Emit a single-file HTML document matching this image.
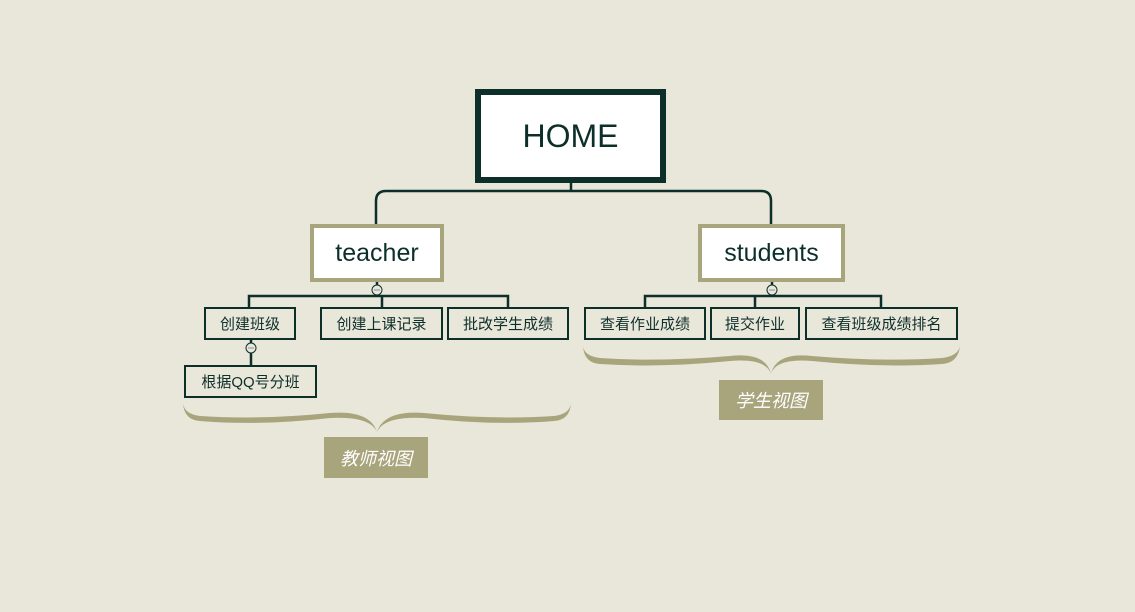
<!DOCTYPE html>
<html><head><meta charset="utf-8"><style>
body{margin:0;width:1135px;height:612px;background:#e9e6da;position:relative;overflow:hidden;font-family:"Liberation Sans","Noto Sans CJK SC",sans-serif;color:#0d2f2a}
.b{position:absolute;box-sizing:border-box;display:flex;align-items:center;justify-content:center;white-space:nowrap}
.c{border:2px solid #0d2f2a;font-size:15px;background:#e9e6da}
.m{border:4px solid #a8a47c;background:#fff;font-size:25px}
.l{background:#a8a47c;color:#fff;font-style:italic;font-size:18px}
</style></head><body>
<svg width="1135" height="612" style="position:absolute;left:0;top:0">
<g fill="none" stroke="#0d2f2a" stroke-width="2.5">
<path d="M571 183V191M376 224V201Q376 191 386 191H761Q771 191 771 201V224"/>
<path d="M377 282V296M249 307V296H508V307M382 296V307"/>
<path d="M251 339V365"/>
<path d="M772 282V296M645 307V296H881V307M755 296V307"/>
</g>
<g fill="#e9e6da" stroke="#0d2f2a" stroke-width="1">
<circle cx="377" cy="290" r="5"/><circle cx="251" cy="348" r="5"/><circle cx="772" cy="290" r="5"/>
</g>
<g stroke="#8a8aa8" stroke-width="1"><path d="M374 290H380M248 348H254M769 290H775"/></g>
<g fill="#a8a47c">
<path d="M183 403Q184 414 200 416Q260 420 330 413Q370 410 377 432Q384 410 424 413Q494 420 554 416Q570 414 571 403Q570 420 554 421Q494 426 424 418Q384 416 377 432Q370 416 330 418Q260 426 200 421Q184 420 183 403Z"/>
<path d="M583 346Q584 356 600 358Q660 362 730 356Q766 352 771 374Q776 352 812 356Q882 362 942 358Q958 356 960 346Q958 363 942 364Q882 368 812 361Q776 358 771 374Q766 358 730 361Q660 368 600 364Q584 363 583 346Z"/>
</g>
</svg>
<div class="b" style="left:475px;top:89px;width:191px;height:94px;border:6px solid #0d2f2a;background:#fff;font-size:32px">HOME</div>
<div class="b m" style="left:310px;top:224px;width:134px;height:58px">teacher</div>
<div class="b m" style="left:698px;top:224px;width:147px;height:58px">students</div>
<div class="b c" style="left:204px;top:307px;width:92px;height:33px">创建班级</div>
<div class="b c" style="left:320px;top:307px;width:123px;height:33px">创建上课记录</div>
<div class="b c" style="left:447px;top:307px;width:122px;height:33px">批改学生成绩</div>
<div class="b c" style="left:184px;top:365px;width:133px;height:33px">根据QQ号分班</div>
<div class="b c" style="left:584px;top:307px;width:122px;height:33px">查看作业成绩</div>
<div class="b c" style="left:710px;top:307px;width:90px;height:33px">提交作业</div>
<div class="b c" style="left:805px;top:307px;width:153px;height:33px">查看班级成绩排名</div>
<div class="b l" style="left:324px;top:437px;width:104px;height:41px">教师视图</div>
<div class="b l" style="left:719px;top:380px;width:104px;height:40px">学生视图</div>
</body></html>
